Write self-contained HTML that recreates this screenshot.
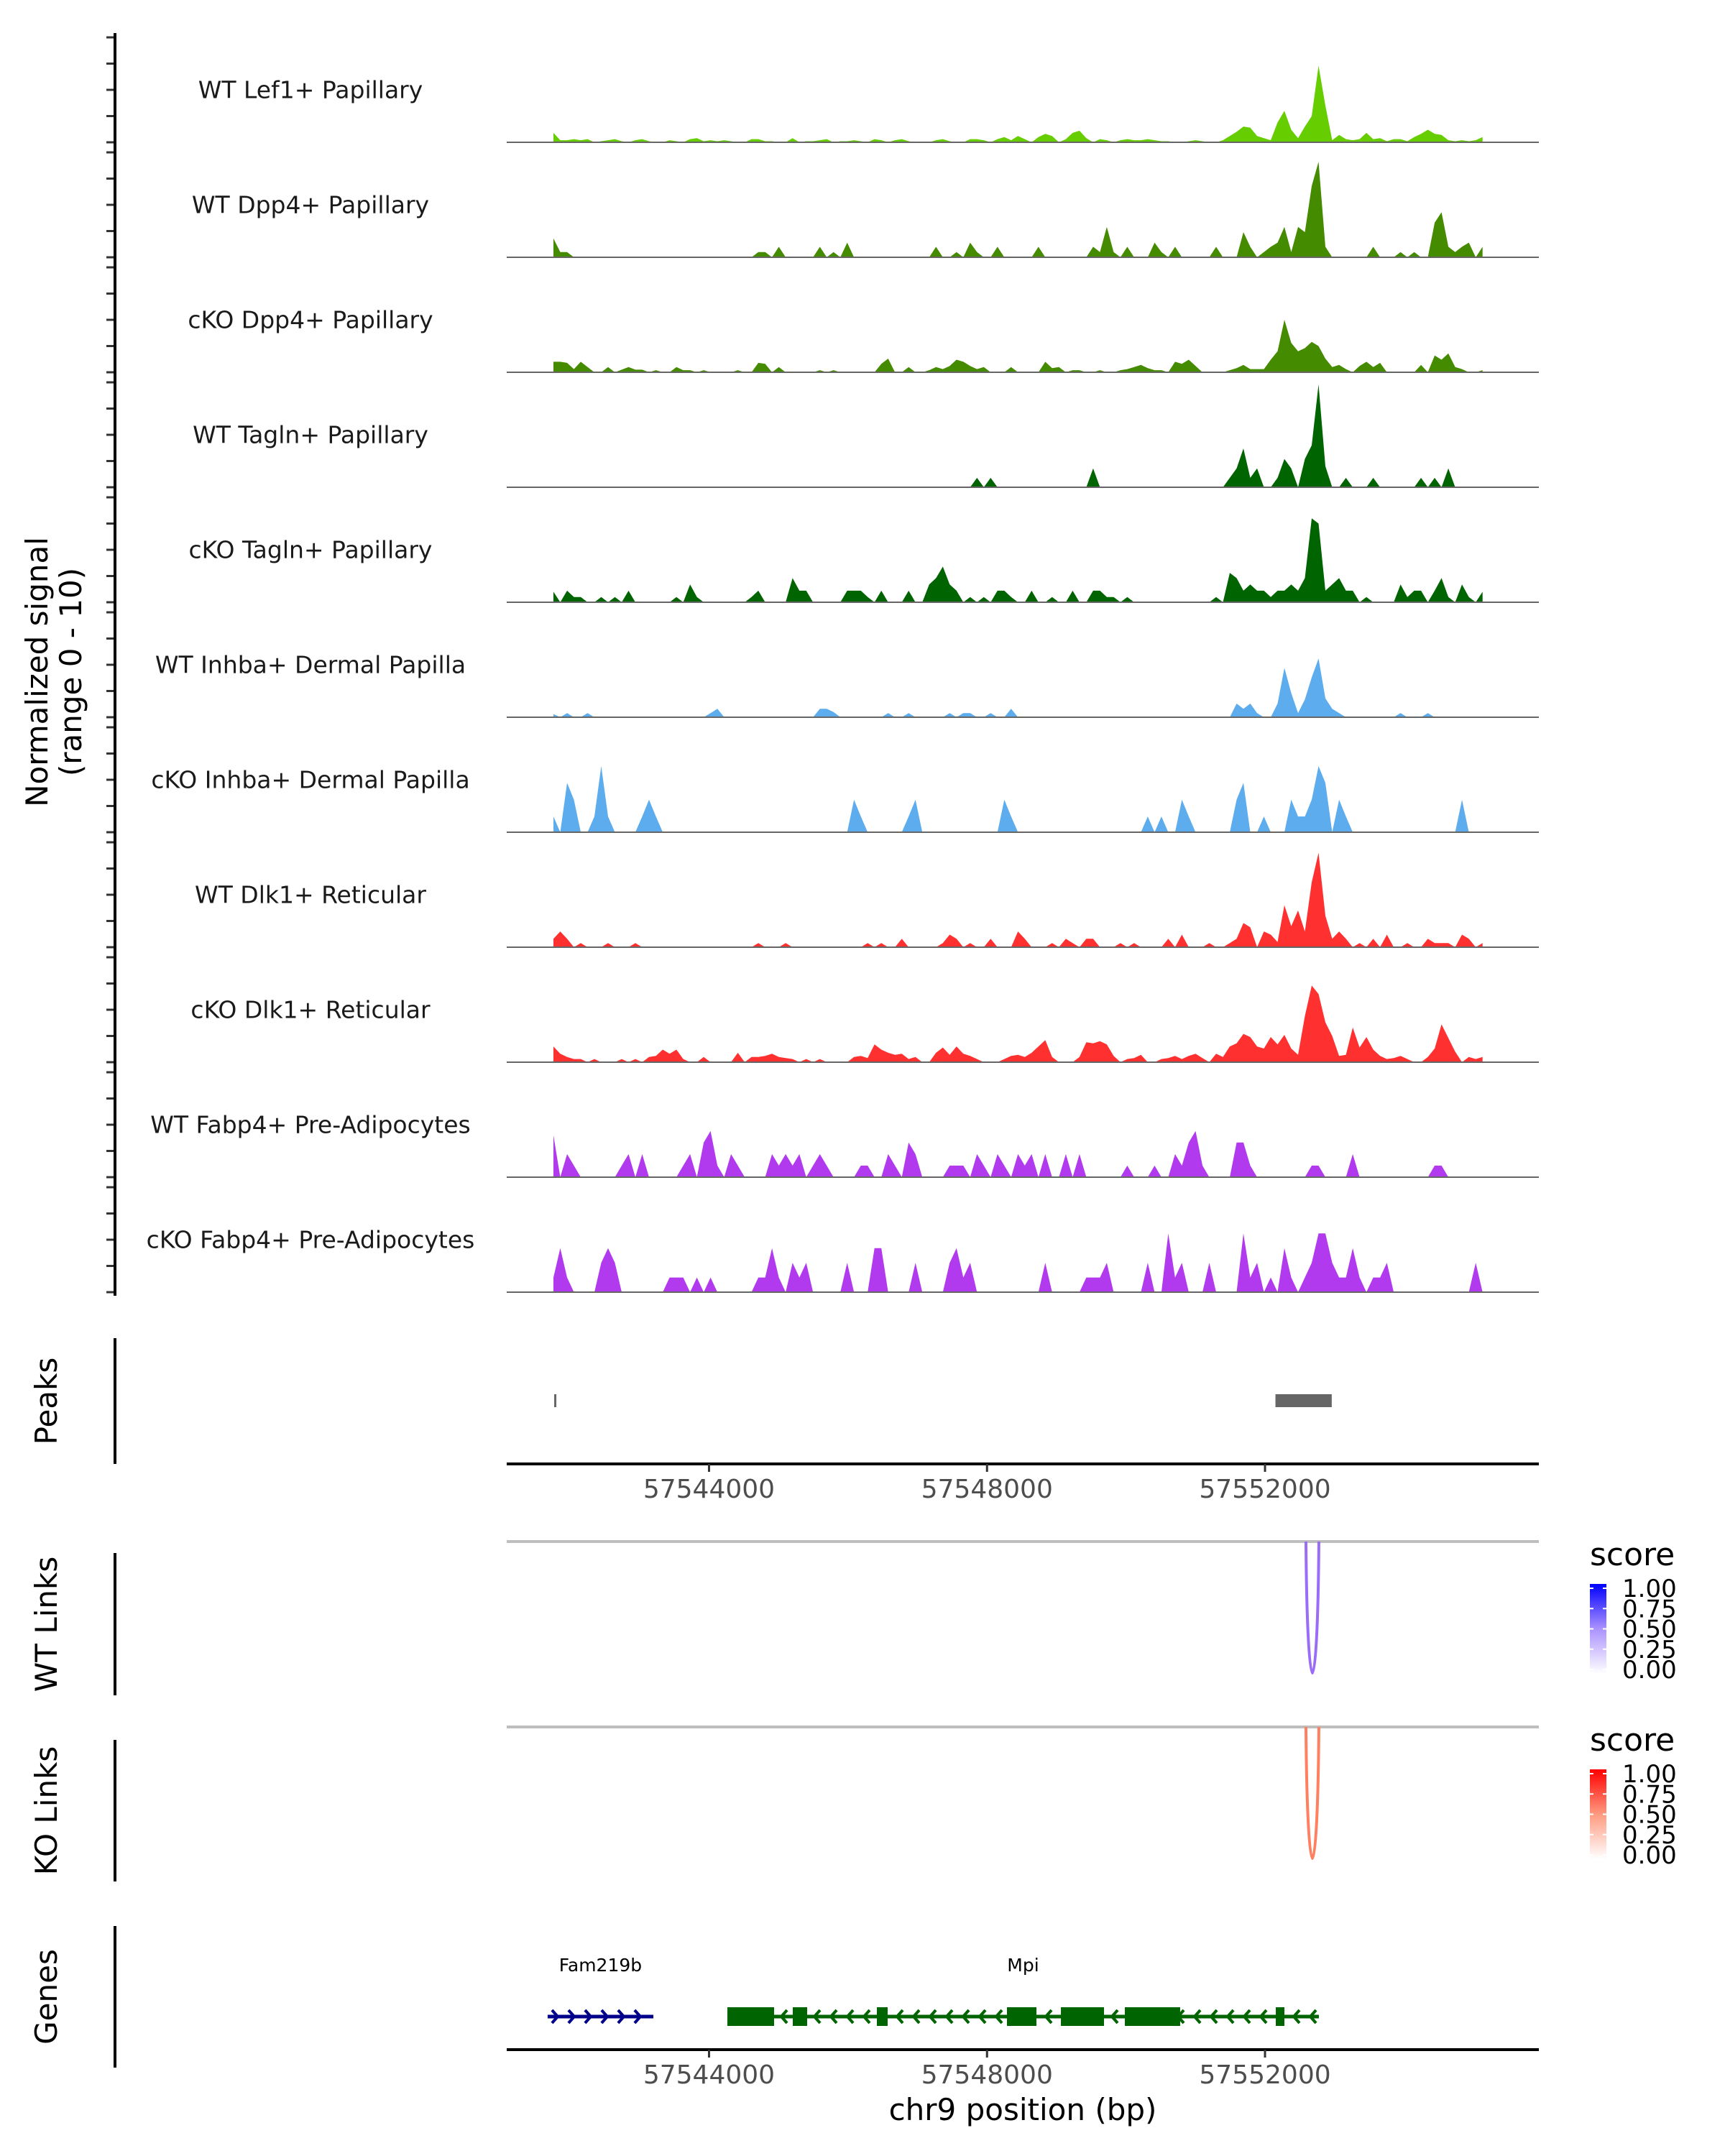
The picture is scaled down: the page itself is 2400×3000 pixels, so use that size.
<!DOCTYPE html>
<html><head><meta charset="utf-8"><style>
html,body{margin:0;padding:0;background:#fff;}
svg{display:block;font-family:"DejaVu Sans","Liberation Sans",sans-serif;}
</style></head><body>
<svg id="chart" width="2400" height="3000" viewBox="0 0 2400 3000" xmlns="http://www.w3.org/2000/svg">
<rect width="2400" height="3000" fill="#fff"/>
<g id="tracks"></g>
<g id="left"></g>
<text transform="translate(66,935) rotate(-90)" text-anchor="middle" font-size="42" fill="#000">Normalized signal</text>
<text transform="translate(113,935) rotate(-90)" text-anchor="middle" font-size="42" fill="#000" dy="0">(range 0 - 10)</text>
<g id="peaks"></g>
<g id="links"></g>
<g id="genes"></g>
</svg>
<script>
const NS='http://www.w3.org/2000/svg';
// ---- data ----
const trackNames=["WT Lef1+ Papillary","WT Dpp4+ Papillary","cKO Dpp4+ Papillary","WT Tagln+ Papillary","cKO Tagln+ Papillary","WT Inhba+ Dermal Papilla","cKO Inhba+ Dermal Papilla","WT Dlk1+ Reticular","cKO Dlk1+ Reticular","WT Fabp4+ Pre-Adipocytes","cKO Fabp4+ Pre-Adipocytes"];
const trackColors=["#66CD00","#458B00","#458B00","#006400","#006400","#5CACEE","#5CACEE","#FF3030","#FF3030","#B23AEE","#B23AEE"];
const binStart=57541761, binWidth=98.3;
const sigLef1WT=[[0,0.9],[1,0.2],[2,0.2],[3,0.3],[4,0.2],[5,0.3],[7,0.1],[8,0.2],[9,0.3],[10,0.1],[12,0.2],[13,0.3],[14,0.1],[17,0.2],[18,0.1],[20,0.3],[21,0.4],[22,0.1],[23,0.2],[24,0.1],[25,0.2],[26,0.1],[29,0.3],[30,0.3],[31,0.1],[32,0.1],[35,0.4],[37,0.1],[38,0.1],[39,0.2],[40,0.3],[42,0.1],[43,0.1],[44,0.2],[45,0.1],[47,0.3],[48,0.2],[50,0.2],[51,0.3],[52,0.1],[56,0.2],[57,0.3],[58,0.1],[61,0.3],[62,0.3],[63,0.2],[65,0.3],[66,0.5],[67,0.2],[68,0.6],[69,0.3],[71,0.5],[72,0.8],[73,0.6],[75,0.3],[76,0.9],[77,1.1],[78,0.4],[80,0.3],[81,0.2],[83,0.2],[84,0.3],[85,0.2],[86,0.2],[87,0.3],[88,0.2],[89,0.1],[90,0.1],[93,0.1],[94,0.2],[95,0.1],[98,0.2],[99,0.6],[100,1.0],[101,1.5],[102,1.4],[103,0.6],[104,0.4],[105,0.2],[106,1.9],[107,3.0],[108,1.2],[109,0.4],[110,1.5],[111,2.5],[112,7.3],[113,3.5],[114,0.2],[115,0.7],[116,0.3],[117,0.2],[118,0.3],[119,0.9],[120,0.3],[121,0.4],[122,0.1],[123,0.3],[124,0.3],[125,0.1],[126,0.5],[127,0.8],[128,1.2],[129,0.8],[130,0.7],[131,0.2],[132,0.1],[133,0.2],[134,0.1],[135,0.2],[136,0.5]];
const sigDpp4WT=[[0,1.8],[1,0.5],[2,0.5],[30,0.5],[31,0.5],[33,1.0],[39,1.0],[41,0.5],[43,1.4],[56,1.0],[59,0.5],[61,1.4],[62,0.5],[65,1.0],[71,1.0],[79,1.0],[80,0.5],[81,2.9],[82,0.5],[84,1.0],[88,1.4],[89,0.5],[91,1.0],[97,1.0],[101,2.4],[102,1.0],[104,0.5],[105,1.0],[106,1.4],[107,2.9],[108,0.5],[109,2.9],[110,2.4],[111,6.8],[112,9.1],[113,1.0],[120,1.0],[124,0.5],[126,0.5],[129,3.3],[130,4.3],[131,1.0],[132,0.5],[133,1.0],[134,1.4],[136,1.0]];
const sigDpp4KO=[[0,1.0],[1,1.0],[2,0.9],[3,0.3],[4,1.0],[5,0.5],[8,0.5],[10,0.25],[11,0.5],[12,0.25],[13,0.25],[15,0.2],[18,0.5],[19,0.2],[20,0.2],[22,0.2],[27,0.2],[30,0.9],[31,0.8],[33,0.5],[39,0.2],[41,0.2],[48,0.8],[49,1.3],[52,0.5],[55,0.2],[56,0.5],[57,0.3],[58,0.6],[59,1.2],[60,1.0],[61,0.6],[62,0.3],[63,0.5],[67,0.5],[72,1.0],[73,0.4],[74,0.5],[76,0.2],[77,0.2],[80,0.2],[83,0.2],[84,0.3],[85,0.5],[86,0.7],[87,0.4],[88,0.2],[89,0.2],[91,1.0],[92,0.8],[93,1.2],[94,0.6],[99,0.2],[100,0.4],[101,0.7],[102,0.3],[103,0.3],[104,0.3],[105,1.2],[106,2.0],[107,5.0],[108,2.8],[109,2.0],[110,2.3],[111,2.9],[112,2.5],[113,1.3],[114,0.5],[115,0.7],[116,0.3],[118,0.6],[119,1.0],[120,0.5],[121,0.9],[127,0.7],[129,1.6],[130,1.2],[131,1.8],[132,0.5],[133,0.3],[136,0.2]];
const sigTaglnWT=[[62,0.9],[64,0.9],[79,1.8],[99,0.9],[100,1.8],[101,3.7],[102,0.9],[103,1.8],[106,0.9],[107,2.7],[108,1.8],[110,2.7],[111,4.0],[112,9.8],[113,2.0],[116,0.9],[120,0.9],[127,0.9],[129,0.9],[131,1.8]];
const sigTaglnKO=[[0,1.0],[2,1.1],[3,0.5],[4,0.5],[7,0.5],[9,0.5],[11,1.1],[18,0.5],[20,1.7],[21,0.5],[29,0.5],[30,1.1],[35,2.3],[36,1.1],[37,1.1],[43,1.1],[44,1.1],[45,1.1],[46,0.5],[48,1.1],[52,1.1],[55,1.7],[56,2.3],[57,3.4],[58,1.7],[59,1.1],[61,0.5],[63,0.5],[65,1.1],[66,1.1],[67,0.5],[70,1.1],[73,0.5],[76,1.1],[79,1.1],[80,1.1],[81,0.5],[82,0.5],[84,0.5],[97,0.5],[99,2.8],[100,2.3],[101,1.1],[102,1.7],[103,1.1],[104,1.1],[105,0.5],[106,1.1],[107,1.1],[108,1.7],[109,1.1],[110,2.3],[111,8.0],[112,7.5],[113,1.1],[114,1.7],[115,2.3],[116,1.1],[117,1.1],[119,0.5],[124,1.7],[125,0.5],[126,1.1],[127,1.1],[129,1.1],[130,2.3],[131,0.5],[133,1.7],[134,0.5],[136,1.0]];
const sigInhbaWT=[[0,0.3],[2,0.4],[5,0.4],[23,0.4],[24,0.8],[39,0.8],[40,0.8],[41,0.5],[49,0.4],[52,0.4],[58,0.4],[60,0.4],[61,0.4],[64,0.4],[67,0.8],[100,1.3],[101,0.8],[102,1.3],[103,0.4],[106,1.3],[107,4.7],[108,2.3],[109,0.4],[110,1.7],[111,3.8],[112,5.6],[113,1.8],[114,0.8],[115,0.4],[124,0.4],[128,0.4]];
const sigInhbaKO=[[0,1.5],[2,4.7],[3,3.1],[6,1.5],[7,6.3],[8,1.5],[13,1.5],[14,3.1],[15,1.5],[44,3.1],[45,1.5],[52,1.5],[53,3.1],[66,3.1],[67,1.5],[87,1.5],[89,1.5],[92,3.1],[93,1.5],[100,3.1],[101,4.7],[104,1.5],[108,3.1],[109,1.5],[110,1.5],[111,3.1],[112,6.3],[113,4.7],[115,3.1],[116,1.5],[133,3.1]];
const sigDlk1WT=[[0,0.8],[1,1.5],[2,0.8],[4,0.4],[8,0.4],[12,0.4],[30,0.4],[34,0.4],[46,0.4],[48,0.4],[51,0.8],[57,0.4],[58,1.2],[59,0.8],[61,0.4],[64,0.8],[68,1.5],[69,0.8],[73,0.4],[75,0.8],[76,0.4],[78,0.8],[79,0.8],[83,0.4],[85,0.4],[90,0.8],[92,1.2],[96,0.4],[99,0.4],[100,0.8],[101,2.3],[102,1.9],[104,1.5],[105,1.2],[106,0.5],[107,4.0],[108,2.0],[109,3.5],[110,1.5],[111,6.2],[112,9.0],[113,3.0],[114,0.8],[115,1.5],[116,0.8],[118,0.4],[120,0.8],[122,1.2],[125,0.4],[128,0.8],[129,0.4],[130,0.4],[131,0.4],[133,1.2],[134,0.8],[136,0.4]];
const sigDlk1KO=[[0,1.5],[1,0.8],[2,0.5],[3,0.3],[4,0.3],[6,0.3],[10,0.3],[12,0.3],[14,0.5],[15,0.6],[16,1.2],[17,0.8],[18,1.2],[19,0.3],[22,0.5],[27,0.9],[29,0.5],[30,0.5],[31,0.6],[32,0.8],[33,0.5],[34,0.4],[35,0.3],[37,0.3],[39,0.3],[44,0.5],[45,0.6],[46,0.4],[47,1.7],[48,1.2],[49,0.9],[50,0.7],[51,0.8],[52,0.3],[53,0.5],[56,0.9],[57,1.4],[58,0.7],[59,1.5],[60,0.8],[61,0.6],[62,0.3],[66,0.3],[67,0.6],[68,0.7],[69,0.5],[70,0.9],[71,1.5],[72,2.1],[73,0.5],[77,0.5],[78,1.9],[79,1.8],[80,2.0],[81,1.7],[82,0.6],[84,0.3],[85,0.4],[86,0.7],[89,0.3],[90,0.4],[91,0.6],[92,0.3],[93,0.6],[94,0.8],[95,0.4],[97,0.8],[98,0.5],[99,1.5],[100,1.8],[101,2.7],[102,2.4],[103,1.5],[104,1.3],[105,2.4],[106,1.7],[107,2.6],[108,1.3],[109,0.7],[110,4.4],[111,7.3],[112,6.5],[113,3.8],[114,2.5],[115,0.6],[116,0.7],[117,3.3],[118,1.4],[119,2.4],[120,1.2],[121,0.6],[122,0.3],[123,0.4],[124,0.6],[125,0.3],[128,0.5],[129,1.3],[130,3.6],[131,2.3],[132,1.0],[134,0.5],[135,0.3],[136,0.5]];
const sigFabp4WT=[[0,4.0],[2,2.2],[3,1.1],[10,1.1],[11,2.2],[13,2.2],[19,1.1],[20,2.2],[22,3.3],[23,4.4],[24,1.1],[26,2.2],[27,1.1],[32,2.2],[33,1.1],[34,2.2],[35,1.1],[36,2.2],[38,1.1],[39,2.2],[40,1.1],[45,1.1],[46,1.1],[49,2.2],[50,1.1],[52,3.3],[53,2.2],[58,1.1],[59,1.1],[60,1.1],[62,2.2],[63,1.1],[65,2.2],[66,1.1],[68,2.2],[69,1.1],[70,2.2],[72,2.2],[75,2.2],[77,2.2],[84,1.1],[88,1.1],[91,2.2],[92,1.1],[93,3.3],[94,4.4],[95,1.1],[100,3.3],[101,3.3],[102,1.1],[111,1.1],[112,1.1],[117,2.2],[129,1.1],[130,1.1]];
const sigFabp4KO=[[0,1.4],[1,4.2],[2,1.4],[7,2.8],[8,4.2],[9,2.8],[17,1.4],[18,1.4],[19,1.4],[21,1.4],[23,1.4],[30,1.4],[31,1.4],[32,4.2],[33,1.4],[35,2.8],[36,1.4],[37,2.8],[43,2.8],[47,4.2],[48,4.2],[53,2.8],[58,2.8],[59,4.2],[60,1.4],[61,2.8],[72,2.8],[78,1.4],[79,1.4],[80,1.4],[81,2.8],[87,2.8],[90,5.6],[91,1.4],[92,2.8],[96,2.8],[101,5.6],[102,1.4],[103,2.8],[105,1.4],[107,4.2],[108,1.4],[110,1.4],[111,2.8],[112,5.6],[113,5.6],[114,2.8],[115,1.4],[116,1.4],[117,4.2],[118,1.4],[120,1.4],[121,1.4],[122,2.8],[135,2.8]];
const trackSignals=[sigLef1WT,sigDpp4WT,sigDpp4KO,sigTaglnWT,sigTaglnKO,sigInhbaWT,sigInhbaKO,sigDlk1WT,sigDlk1KO,sigFabp4WT,sigFabp4KO];
const xTicks=[57544000,57548000,57552000];
const peakStarts=[57541772,57552150];
const peakEnds=[57541790,57552960];
const wtLinkScore=[0.55]; const koLinkScore=[0.55];
const linkStart=[57552589]; const linkEnd=[57552775];
const legendTicks=["1.00","0.75","0.50","0.25","0.00"];
const geneNames=["Fam219b","Mpi"];
const geneStart=[57541678,57544264]; const geneEnd=[57543199,57552775];
const geneStrand=[1,-1]; const geneColors=["#00008B","#006400"];
const mpiExonStart=[57544264,57545205,57546415,57548287,57549063,57549983,57552155];
const mpiExonEnd=[57544936,57545412,57546570,57548711,57549683,57550779,57552279];
// ---- scales ----
const X0=705, X1=2141, BP0=57541089, BP1=57555940;
function xs(bp){return X0+(bp-BP0)*(X1-X0)/(BP1-BP0);}
const base0=198, trackGap=160, unitPx=14.6;
function ys(t,v){return base0+t*trackGap-v*unitPx;}
function mk(tag,attrs,parent){const e=document.createElementNS(NS,tag);for(const k in attrs)e.setAttribute(k,attrs[k]);parent.appendChild(e);return e;}
const gT=document.getElementById('tracks'), gL=document.getElementById('left');
const nBins=137;
trackSignals.forEach((sig,t)=>{
  const dense=new Array(nBins).fill(0);
  sig.forEach(p=>{if(p[0]<nBins)dense[p[0]]=Math.max(dense[p[0]],p[1]);});
  const b=ys(t,0);
  let d='M'+xs(binStart).toFixed(1)+','+b;
  for(let i=0;i<nBins;i++){const bp=binStart+i*binWidth;d+=' L'+xs(bp).toFixed(1)+','+ys(t,dense[i]).toFixed(1);}
  d+=' L'+xs(binStart+(nBins-1)*binWidth).toFixed(1)+','+b+' Z';
  const a=mk('path',{d:d,fill:trackColors[t],stroke:'none'},gT);
  
  
  const ln=mk('line',{x1:X0,x2:X1,y1:b,y2:b,stroke:'#666','stroke-width':2},gT);
  
  
  const tx=mk('text',{x:432,y:b-71,'text-anchor':'middle','dominant-baseline':'middle','font-size':33,fill:'#1a1a1a'},gL);
  tx.textContent=trackNames[t];
  
  
  for(let k=0;k<5;k++){const y=ys(t,k*2.5);const tk=mk('line',{x1:148,x2:160,y1:y,y2:y,stroke:'#333','stroke-width':3},gL);
    
    }
});
const ax=mk('line',{x1:160,x2:160,y1:46,y2:1803,stroke:'#000','stroke-width':4},gL);


const side=[["Peaks",1862,2037],["WT Links",2161,2359],["KO Links",2421,2618],["Genes",2680,2877]];
const gP=document.getElementById('peaks');
side.forEach(s=>{
  const l=mk('line',{x1:160,x2:160,y1:s[1],y2:s[2],stroke:'#000','stroke-width':4},gP);
  
  
  const t=mk('text',{transform:'translate(79,'+((s[1]+s[2])/2)+') rotate(-90)','text-anchor':'middle','font-size':42,fill:'#000'},gP);
  t.textContent=s[0];
  
  
});
peakStarts.forEach((s,i)=>{
  const x1=xs(s),x2=Math.max(xs(peakEnds[i]),x1+3);
  const r=mk('rect',{x:x1,y:1940,width:x2-x1,height:18,fill:'#666'},gP);
  
  
});
function xAxis(y,parent){
  const l=mk('line',{x1:X0,x2:X1,y1:y,y2:y,stroke:'#000','stroke-width':4},parent);
  
  
  xTicks.forEach(v=>{
    const tk=mk('line',{x1:xs(v),x2:xs(v),y1:y,y2:y+11,stroke:'#333','stroke-width':3},parent);
    
    
    const t=mk('text',{x:xs(v),y:y+47,'text-anchor':'middle','font-size':36,fill:'#4d4d4d'},parent);
    t.textContent=String(v);
    
    
  });
}
xAxis(2037,gP);
const gK=document.getElementById('links');
function linkPanel(y0,yb,scores,col,c0,label){
  const l=mk('line',{x1:X0,x2:X1,y1:y0,y2:y0,stroke:'#bebebe','stroke-width':4},gK);
  
  
  linkStart.forEach((s,i)=>{
    const a=xs(s),b=xs(linkEnd[i]);const c=y0+(yb-y0)/0.75;
    const p=mk('path',{d:`M${a},${y0} C${a+2},${c} ${b-2},${c} ${b},${y0}`,fill:'none',stroke:col,'stroke-width':4},gK);
    
    
  });
  const ly=y0+33;
  const t=mk('text',{x:2212,y:ly,'font-size':44,fill:'#000'},gK);t.textContent='score';
  
  
  const gid='g'+label;
  const defs=mk('defs',{},gK);const lg=mk('linearGradient',{id:gid,x1:0,y1:1,x2:0,y2:0},defs);
  mk('stop',{offset:0,'stop-color':'#ffffff'},lg);mk('stop',{offset:0.5,'stop-color':c0[0]},lg);mk('stop',{offset:1,'stop-color':c0[1]},lg);
  const top=y0+59,bot=top+125;
  const r=mk('rect',{x:2212,y:top,width:23,height:bot-top,fill:`url(#${gid})`},gK);
  
  
  legendTicks.forEach((lab,k)=>{
    const y=top+6+k*(bot-top-12)/4;
    mk('line',{x1:2212,x2:2217,y1:y,y2:y,stroke:'#fff','stroke-width':2},gK);
    mk('line',{x1:2230,x2:2235,y1:y,y2:y,stroke:'#fff','stroke-width':2},gK);
    const tt=mk('text',{x:2257,y:y+12,'font-size':34,fill:'#000'},gK);tt.textContent=lab;
    
    
  });
}
linkPanel(2145,2328,wtLinkScore,'#9A6CF8',['#ab92ff','#0000ff'],'wt');
linkPanel(2403,2586,koLinkScore,'#FF7F60',['#ff9a80','#ff0000'],'ko');
const gG=document.getElementById('genes');
const gy=2806;
geneNames.forEach((n,i)=>{
  const a=xs(geneStart[i]),b=xs(geneEnd[i]);
  const l=mk('line',{x1:a,x2:b,y1:gy,y2:gy,stroke:geneColors[i],'stroke-width':5},gG);
  
  
  const t=mk('text',{x:(a+b)/2,y:2743,'text-anchor':'middle','font-size':25,fill:'#000'},gG);t.textContent=n;
  
  
  const step=23;
  for(let x=a+6;x<b-4;x+=step){
    const d=geneStrand[i]>0?`M${x},${gy-9} L${x+8},${gy} L${x},${gy+9}`:`M${x+8},${gy-9} L${x},${gy} L${x+8},${gy+9}`;
    const c=mk('path',{d:d,fill:'none',stroke:geneColors[i],'stroke-width':4},gG);
    
    
  }
});
mpiExonStart.forEach((s,i)=>{
  const a=xs(s),b=xs(mpiExonEnd[i]);
  const r=mk('rect',{x:a,y:2793,width:b-a,height:26,fill:'#006400'},gG);
  
  
});
xAxis(2852,gG);
const xt=mk('text',{x:1423,y:2950,'text-anchor':'middle','font-size':42,fill:'#000'},gG);
xt.textContent='chr9 position (bp)';


</script>
</body></html>
